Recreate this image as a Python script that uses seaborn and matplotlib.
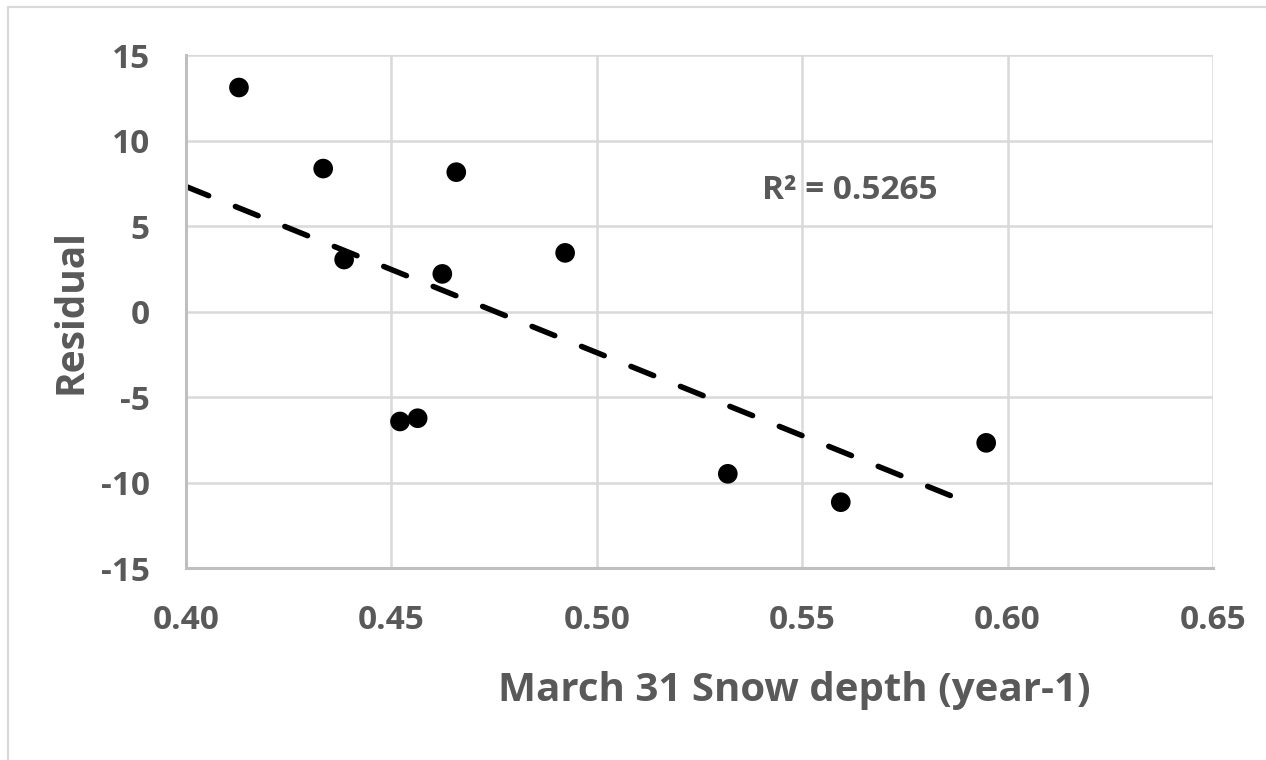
import numpy as np
import pandas as pd
import matplotlib.pyplot as plt
import seaborn as sns
from matplotlib.lines import Line2D
from matplotlib.ticker import FormatStrFormatter

# Residuals vs. previous-year March 31 snow depth
snow_depth = [0.4129, 0.4334, 0.4385, 0.4658, 0.4624, 0.4923,
              0.4521, 0.4564, 0.5319, 0.5594, 0.5948]
residual = [13.1, 8.36, 3.04, 8.15, 2.2, 3.43,
            -6.43, -6.24, -9.49, -11.15, -7.68]

# linear trendline as drawn in the chart (end points)
trend_x = [0.40, 0.5906]
trend_y = [7.31, -11.2]
r2_label = "R\u00b2 = 0.5265"

x_ticks = [0.40, 0.45, 0.50, 0.55, 0.60, 0.65]
y_ticks = [-15, -10, -5, 0, 5, 10, 15]

df = pd.DataFrame({'snow': snow_depth, 'resid': residual})

sns.set_style('white')
plt.rcParams['font.family'] = ['Open Sans', 'DejaVu Sans']
plt.rcParams['font.weight'] = 'bold'
plt.rcParams['axes.unicode_minus'] = False

text_col = '#595959'
grid_col = '#d9d9d9'

fig = plt.figure(figsize=(12.66, 7.6), dpi=100)
ax = fig.add_axes([0.1469, 0.2526, 0.8112, 0.6750])

sns.scatterplot(data=df, x='snow', y='resid', color='black', s=200,
                edgecolor='none', ax=ax, zorder=3)
sns.lineplot(x=trend_x, y=trend_y, color='black', linewidth=4.0, ax=ax, zorder=2)
trend = ax.lines[-1]
trend.set_dashes((4.4, 5.2))
trend.set_dash_capstyle('round')

ax.set_xlim(0.40, 0.65)
ax.set_ylim(-15, 15)
ax.set_xticks(x_ticks)
ax.set_yticks(y_ticks)
ax.xaxis.set_major_formatter(FormatStrFormatter('%.2f'))
ax.grid(True, color=grid_col, linewidth=1.8, zorder=0)
ax.set_axisbelow(True)

for side in ['top', 'right']:
    ax.spines[side].set_visible(False)
for side in ['left', 'bottom']:
    ax.spines[side].set_color('#bfbfbf')
    ax.spines[side].set_linewidth(2.2)

ax.tick_params(axis='both', length=0, pad=26, labelsize=24, labelcolor=text_col)
for lab in ax.get_xticklabels() + ax.get_yticklabels():
    lab.set_fontweight('bold')

ax.set_xlabel('March 31 Snow depth (year-1)', fontsize=29, fontweight='bold', color=text_col)
ax.set_ylabel('Residual', fontsize=28, fontweight='bold', color=text_col)
ax.xaxis.set_label_coords(0.592, -0.2)
ax.yaxis.set_label_coords(-0.093, 0.5)

ax.text(0.5402, 7.1, r2_label, fontsize=24, fontweight='bold', color=text_col,
        va='center', ha='left')

# chart-area border (top and left edges visible)
fig.add_artist(Line2D([8 / 1266, 1.0], [1 - 7 / 760, 1 - 7 / 760],
                      transform=fig.transFigure, color=grid_col, linewidth=1.6))
fig.add_artist(Line2D([8 / 1266, 8 / 1266], [0.0, 1 - 7 / 760],
                      transform=fig.transFigure, color=grid_col, linewidth=1.6))

fig.savefig('out.png', dpi=100)
